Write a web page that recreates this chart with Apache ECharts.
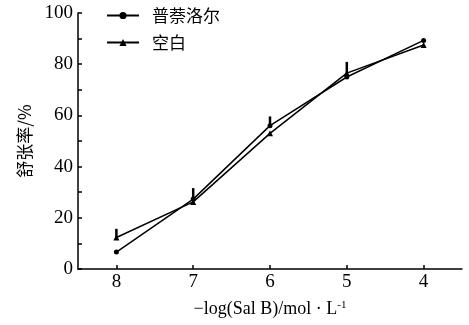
<!DOCTYPE html>
<html>
<head>
<meta charset="utf-8">
<script src="https://cdn.jsdelivr.net/npm/echarts@6/dist/echarts.min.js"></script>
<style>html,body{margin:0;padding:0;background:#fff;}#c{width:469px;height:325px;}</style>
</head>
<body>
<div id="c"></div>
<script>
var categories = ['8', '7', '6', '5', '4'];
var propranolol = [6.6, 27.3, 56, 75, 89.3];
var blank = [12.3, 26.2, 53, 76.5, 87.5];
// upward error bars (value, error) on the upper point at each category
var errBase = [12.3, 27.3, 56, 76.5, null];
var errSize = [3.4, 4.3, 3.6, 4.4, null];
var yTicks = [0, 20, 40, 60, 80, 100];

var serif = '"Liberation Serif", "Times New Roman", "Noto Sans CJK SC", serif';
var chart = echarts.init(document.getElementById('c'));
var errData = [];
for (var i = 0; i < categories.length; i++) {
  if (errBase[i] != null) errData.push([i, errBase[i], errBase[i] + errSize[i]]);
}
chart.setOption({
  animation: false,
  backgroundColor: '#fff',
  grid: { left: 78, right: 7, top: 13, bottom: 56 },
  legend: {
    data: ['普萘洛尔', '空白'],
    orient: 'vertical',
    left: 101,
    top: 2,
    itemWidth: 32,
    itemHeight: 9,
    itemGap: 10,
    textStyle: { fontFamily: '"Noto Sans CJK SC", serif', fontSize: 17, color: '#000', padding: [0, 0, 0, 8] }
  },
  xAxis: {
    type: 'category',
    data: categories,
    boundaryGap: true,
    name: '{a|−log(Sal B)/mol · L}{s|-1}',
    nameLocation: 'middle',
    nameGap: 31,
    nameTextStyle: {
      rich: {
        a: { fontFamily: serif, fontSize: 18, color: '#000' },
        s: { fontFamily: serif, fontSize: 11, color: '#000', verticalAlign: 'top', padding: [0, 0, 8, 0] }
      }
    },
    axisLine: { lineStyle: { color: '#000', width: 1.5 } },
    axisTick: { show: true, inside: true, alignWithLabel: true, length: 4, lineStyle: { color: '#000', width: 1.5 } },
    axisLabel: { fontFamily: serif, fontSize: 19, color: '#000', margin: 4 },
    splitLine: { show: false }
  },
  yAxis: {
    type: 'value',
    min: 0, max: 100, interval: 20,
    name: '舒张率/%',
    nameLocation: 'middle',
    nameRotate: 90,
    nameGap: 45,
    nameTextStyle: { fontFamily: '"Noto Sans CJK SC", serif', fontSize: 17, color: '#000' },
    axisLine: { show: true, lineStyle: { color: '#000', width: 1.5 } },
    axisTick: { show: true, inside: true, length: 4, lineStyle: { color: '#000', width: 1.5 } },
    minorTick: { show: true, splitNumber: 2, length: 4, lineStyle: { color: '#000', width: 1.5 } },
    axisLabel: { fontFamily: serif, fontSize: 19, color: '#000', margin: 5,
      formatter: function (v) { return yTicks.indexOf(v) >= 0 ? String(v) : ''; } },
    splitLine: { show: false }
  },
  series: [
    {
      name: '普萘洛尔', type: 'line', data: propranolol,
      symbol: 'circle', symbolSize: 5,
      lineStyle: { color: '#000', width: 1.5 },
      itemStyle: { color: '#000' }
    },
    {
      name: '空白', type: 'line', data: blank,
      symbol: 'triangle', symbolSize: 6,
      lineStyle: { color: '#000', width: 1.5 },
      itemStyle: { color: '#000' }
    },
    {
      name: 'err', type: 'custom', data: errData,
      renderItem: function (params, api) {
        var p0 = api.coord([api.value(0), api.value(1)]);
        var p1 = api.coord([api.value(0), api.value(2)]);
        return { type: 'line', shape: { x1: p0[0], y1: p0[1], x2: p1[0], y2: p1[1] },
          style: { stroke: '#000', lineWidth: 2.5 } };
      },
      encode: { x: 0, y: [1, 2] },
      z: 3
    }
  ]
});
</script>
</body>
</html>
